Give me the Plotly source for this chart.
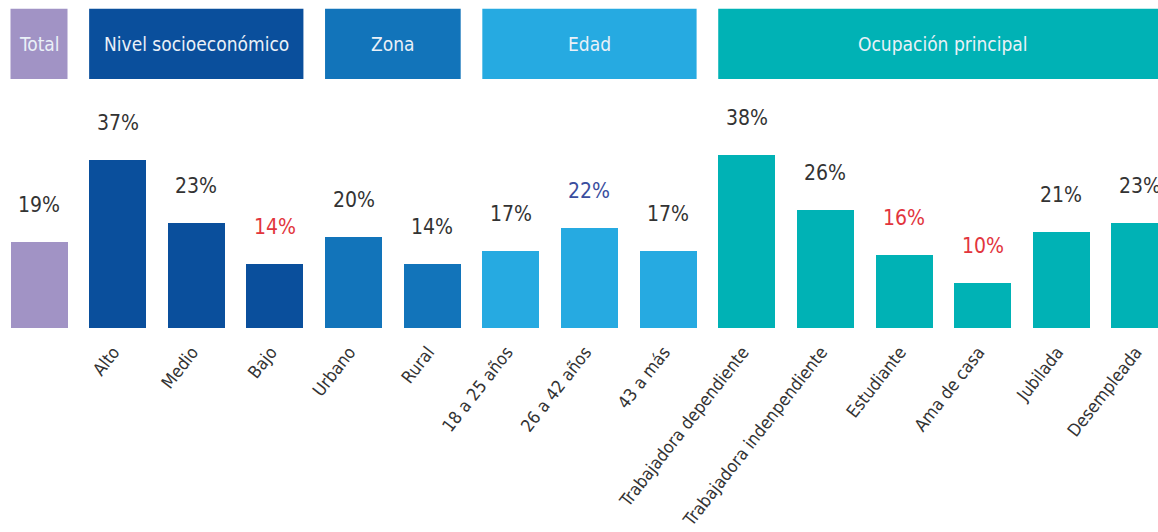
import plotly.graph_objects as go

# Categories, values and groups
categories = ["Total", "Alto", "Medio", "Bajo", "Urbano", "Rural",
              "18 a 25 años", "26 a 42 años", "43 a más",
              "Trabajadora dependiente", "Trabajadora indenpendiente",
              "Estudiante", "Ama de casa", "Jubilada", "Desempleada"]
tick_labels = [""] + categories[1:]
values = [19, 37, 23, 14, 20, 14, 17, 22, 17, 38, 26, 16, 10, 21, 23]
groups = ["Total", "Nivel socioeconómico", "Zona", "Edad", "Ocupación principal"]
group_sizes = [1, 3, 2, 3, 6]
group_colors = ["#A193C5", "#0A4F9C", "#1274BA", "#26AAE1", "#00B2B5"]
label_colors = ["#333333", "#333333", "#333333", "#E2353D", "#333333", "#333333",
                "#333333", "#3A4E9E", "#333333", "#333333", "#333333",
                "#E2353D", "#E2353D", "#333333", "#333333"]

FONT = "Liberation Sans Narrow, DejaVu Sans Condensed, Arial Narrow, sans-serif"
BAR_W = 0.725

bar_colors = []
for g, n in enumerate(group_sizes):
    bar_colors += [group_colors[g]] * n

x = list(range(len(categories)))

fig = go.Figure()
fig.add_trace(go.Bar(
    x=x, y=values, width=BAR_W, marker=dict(color=bar_colors, line=dict(width=0)),
    hoverinfo="skip", showlegend=False,
))

# Value labels above each bar
for xi, v, c in zip(x, values, label_colors):
    fig.add_annotation(x=xi, y=v, text=f"{v}%", showarrow=False,
                       yanchor="bottom", yshift=23,
                       font=dict(family=FONT, size=21, color=c))

# Group header boxes
start = 0
for g, n in enumerate(group_sizes):
    x0 = start - BAR_W / 2
    x1 = start + n - 1 + BAR_W / 2
    fig.add_shape(type="rect", xref="x", yref="paper", x0=x0, x1=x1,
                  y0=0.759, y1=0.973, fillcolor=group_colors[g],
                  line=dict(width=0), layer="above")
    fig.add_annotation(xref="x", yref="paper", x=(x0 + x1) / 2, y=0.866,
                       xanchor="center", yanchor="middle",
                       text=groups[g], showarrow=False,
                       font=dict(family=FONT, size=19, color="#EAF1F8"))
    start += n

fig.update_layout(
    width=1158, height=532,
    margin=dict(l=0, r=0, t=0, b=204),
    paper_bgcolor="white", plot_bgcolor="white",
    bargap=0,
    xaxis=dict(range=[-0.496, 14.23], tickvals=x, ticktext=tick_labels,
               tickangle=-52, showgrid=False, zeroline=False, showline=False,
               ticks="outside", ticklen=6, tickcolor="rgba(0,0,0,0)",
               ticklabelshift=-4,
               automargin=False,
               tickfont=dict(family=FONT, size=17.5, color="#333333")),
    yaxis=dict(range=[0, 72.1], visible=False, fixedrange=True),
)

fig.write_html("out.html")
